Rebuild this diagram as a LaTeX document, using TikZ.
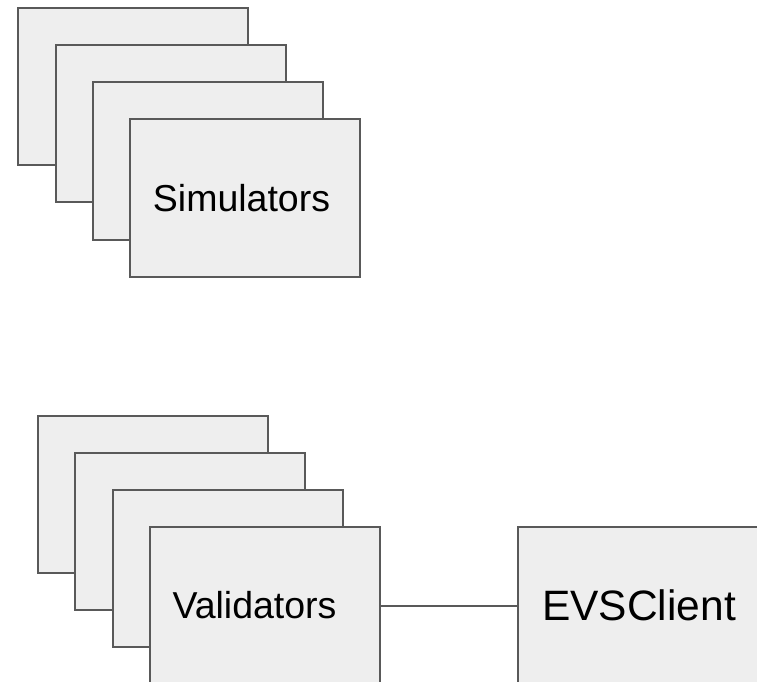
\documentclass[tikz,border=0pt]{standalone}
\usepackage{fontspec}
\setmainfont{Liberation Sans}
\usepackage{xcolor}
\usetikzlibrary{positioning}
\definecolor{boxfill}{HTML}{EEEEEE}
\definecolor{boxline}{HTML}{595959}
\begin{document}
\begin{tikzpicture}[
x=1pt, y=-1pt,
node distance = 136pt,
unit/.style={rectangle, draw=boxline, fill=boxfill, line width=2pt,
  minimum width=230pt, minimum height=157pt, inner sep=0pt,
  font=\fontsize{37.5}{45}\selectfont},
client/.style={unit, minimum width=250pt, font=\fontsize{42.5}{50}\selectfont}]
\clip (0,0) rectangle (757,682);
% simulators
\node [unit] (s1) at (133,86.5) {};
\node [unit] (s2) at (170.5,123.5) {};
\node [unit] (s3) at (207.5,161) {};
\node [unit] (s4) at (245,198) {Simulators\kern7pt};
% validators
\node [unit] (v1) at (152.5,494) {};
\node [unit] (v2) at (190,531) {};
\node [unit] (v3) at (227.5,568.5) {};
\node [unit] (v4) at (264.5,605.5) {Validators\kern20pt};
\node [client] (evs) [right=of v4] {EVSClient\kern7pt};
\path [draw=boxline, line width=2pt] (v4) -- (evs);
\end{tikzpicture}
\end{document}
